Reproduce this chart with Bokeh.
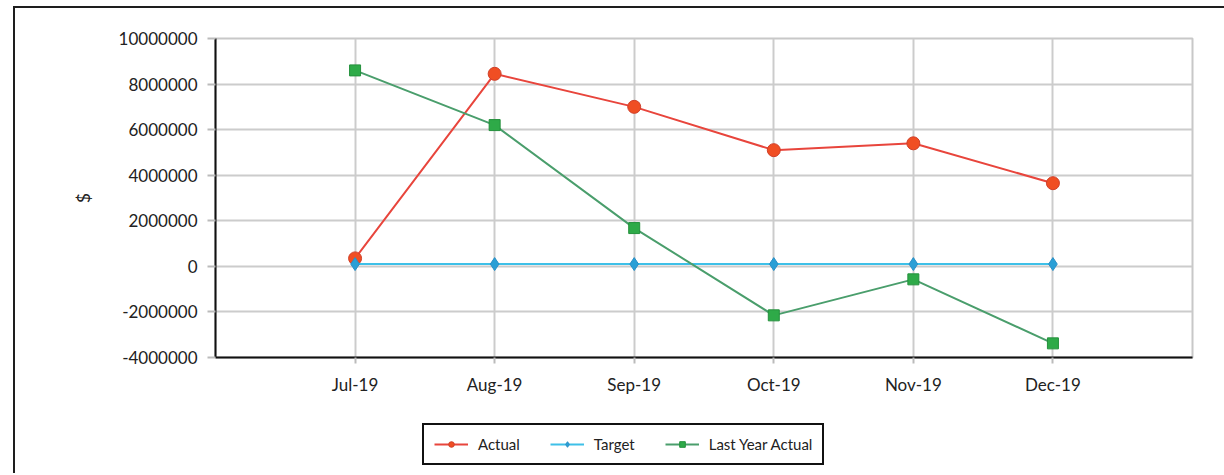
from bokeh.plotting import figure
from bokeh.layouts import column
from bokeh.models import (FactorRange, Range1d, FixedTicker, NumeralTickFormatter,
                          Legend, LegendItem)
from bokeh.embed import file_html
from bokeh.resources import INLINE

# Monthly results (dollars)
months = ["Jul-19", "Aug-19", "Sep-19", "Oct-19", "Nov-19", "Dec-19"]
actual = [350000, 8450000, 7000000, 5100000, 5400000, 3650000]
target = [100000, 100000, 100000, 100000, 100000, 100000]
last_year_actual = [8600000, 6200000, 1680000, -2150000, -570000, -3380000]
y_ticks = [-4000000, -2000000, 0, 2000000, 4000000, 6000000, 8000000, 10000000]

FONT = "Lato"

SERIES = [
    ("Actual", actual, "#e8453c", "circle", 13, "#f04e23", "#d0402a"),
    ("Target", target, "#3ec0e8", "diamond", 13, "#2a9fd6", "#2a8fc6"),
    ("Last Year Actual", last_year_actual, "#4a9e6c", "square", 11, "#2eaa48", "#24903c"),
]


def draw_series(fig):
    """Line + markers for each series; returns (label, renderers) pairs."""
    out = []
    for label, vals, lc, marker, size, fc, ec in SERIES:
        ln = fig.line(months, vals, line_color=lc, line_width=2)
        pts = fig.scatter(months, vals, marker=marker, size=size,
                          fill_color=fc, line_color=ec, line_width=1)
        out.append((label, [ln, pts]))
    return out


# ---- main chart -------------------------------------------------------
p = figure(
    x_range=FactorRange(factors=months, range_padding=0.5,
                        range_padding_units="absolute"),
    y_range=(-4000000, 10000000),
    frame_width=977, frame_height=319,
    min_border_left=200, min_border_top=30,
    min_border_right=34, min_border_bottom=46,
    output_backend="svg", toolbar_location=None,
)

p.background_fill_color = "white"
p.border_fill_color = "white"
p.outline_line_color = "#c8c8c8"
p.outline_line_width = 2

p.xgrid.grid_line_color = "#cccccc"
p.xgrid.grid_line_width = 2
p.ygrid.grid_line_color = "#cccccc"
p.ygrid.grid_line_width = 2

p.yaxis.ticker = FixedTicker(ticks=y_ticks)
p.yaxis.formatter = NumeralTickFormatter(format="0")
p.yaxis.axis_label = "$"
p.yaxis.axis_label_text_font = FONT
p.yaxis.axis_label_text_font_size = "17px"
p.yaxis.axis_label_text_font_style = "normal"
p.yaxis.axis_label_text_color = "#222222"
p.yaxis.axis_label_standoff = 22
p.yaxis.minor_tick_line_color = None

for ax in (p.xaxis[0], p.yaxis[0]):
    ax.axis_line_color = "#111111"
    ax.axis_line_width = 2
    ax.major_tick_line_color = "#bbbbbb"
    ax.major_tick_line_width = 2
    ax.major_tick_in = 0
    ax.major_label_text_font = FONT
    ax.major_label_text_font_size = "17px"
    ax.major_label_text_color = "#222222"

p.yaxis.major_tick_out = 8
p.yaxis.major_label_standoff = 10
p.xaxis.major_tick_out = 6
p.xaxis.major_label_standoff = 10

draw_series(p)

# ---- legend strip under the chart ---------------------------------------
# Same series on a range that keeps the marks out of view; only the legend shows.
leg = figure(
    x_range=FactorRange(factors=months),
    y_range=Range1d(1e12, 2e12),
    width=1211, height=70,
    min_border=0,
    x_axis_location=None, y_axis_location=None,
    output_backend="svg", toolbar_location=None,
)
leg.grid.visible = False
leg.outline_line_color = None
leg.background_fill_color = "white"
leg.border_fill_color = "white"

legend = Legend(
    items=[LegendItem(label=lab, renderers=rs) for lab, rs in draw_series(leg)],
    orientation="horizontal",
    location=(207, 8),
    label_text_font=FONT,
    label_text_font_size="15px",
    label_text_color="#222222",
    label_standoff=10,
    glyph_width=34,
    glyph_height=14,
    spacing=30,
    padding=10,
    margin=0,
    border_line_color="#111111",
    border_line_alpha=1.0,
    border_line_width=2,
    background_fill_color="white",
    background_fill_alpha=1.0,
)
leg.add_layout(legend, "center")

layout = column(
    p, leg,
    spacing=0,
    margin=(6, 0, 0, 13),
    styles={"border-top": "2px solid #1e1e1e",
            "border-left": "2px solid #1e1e1e",
            "background-color": "white"},
)

open("out.html", "w").write(file_html(layout, INLINE))
